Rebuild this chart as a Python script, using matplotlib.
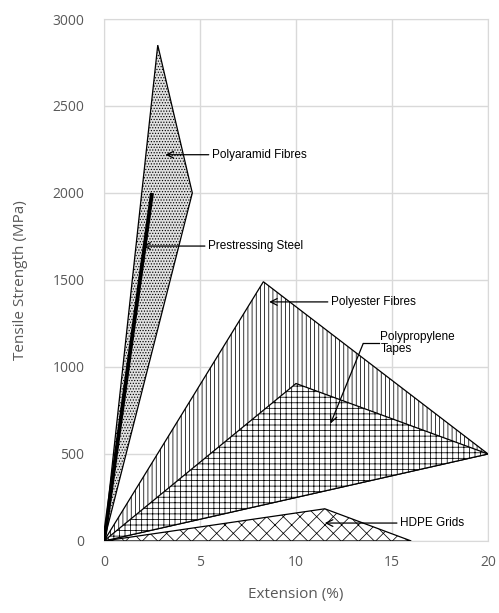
import matplotlib
matplotlib.use("Agg")
import matplotlib.pyplot as plt
from matplotlib.patches import Polygon

# Data (extension %, tensile strength MPa)
polyaramid_x = [0, 2.8, 4.6]
polyaramid_y = [0, 2850, 2000]
steel_x = [0, 2.5]
steel_y = [0, 2000]
polyester_x = [0, 8.3, 20]
polyester_y = [0, 1490, 500]
polypropylene_x = [0, 10, 20]
polypropylene_y = [0, 905, 500]
hdpe_x = [0, 11.5, 16]
hdpe_y = [0, 185, 0]

xticks = [0, 5, 10, 15, 20]
yticks = [0, 500, 1000, 1500, 2000, 2500, 3000]

plt.rcParams['hatch.linewidth'] = 0.55
fig = plt.figure(figsize=(4.99, 6.13), dpi=100)
ax = fig.add_axes([0.2084, 0.1175, 0.7696, 0.8515])

gray = '#d9d9d9'
tick_col = '#595959'

def poly(xs, ys, hatch, fc='white', z=2):
    p = Polygon(list(zip(xs, ys)), closed=True, facecolor=fc, edgecolor='black',
                hatch=hatch, linewidth=0.9, zorder=z)
    ax.add_patch(p)

poly(polyester_x, polyester_y, '||||', z=2)
poly(polypropylene_x, polypropylene_y, '+++', z=3)
poly(hdpe_x, hdpe_y, 'xx', z=3)
poly(polyaramid_x, polyaramid_y, '......', fc='#e0e0e0', z=4)
ax.plot(steel_x, steel_y, color='black', linewidth=2.8, zorder=5, solid_capstyle='butt')

ax.set_xlim(0, 20)
ax.set_ylim(0, 3000)
ax.set_xticks(xticks)
ax.set_yticks(yticks)
ax.grid(True, color=gray, linewidth=1.0, zorder=0)
ax.set_axisbelow(True)
for s in ax.spines.values():
    s.set_color(gray)
ax.tick_params(length=0, colors=tick_col, labelsize=10)
ax.tick_params(axis='y', pad=14)
ax.tick_params(axis='x', pad=10)
for lab in ax.get_xticklabels() + ax.get_yticklabels():
    lab.set_fontfamily('Open Sans')
ax.set_xlabel('Extension (%)', fontsize=11, color=tick_col, family='Open Sans', labelpad=12)
ax.set_ylabel('Tensile Strength (MPa)', fontsize=11, color=tick_col, family='Open Sans', labelpad=18)

afont = dict(fontsize=8.5, family='Liberation Sans', color='black', va='center', zorder=10)
aprops = dict(arrowstyle='->', color='black', lw=0.9, shrinkA=0, shrinkB=0,
              mutation_scale=12)

ax.annotate('Polyaramid Fibres', xy=(3.2, 2220), xytext=(5.6, 2220),
            arrowprops=aprops, **afont)
ax.annotate('Prestressing Steel', xy=(2.0, 1695), xytext=(5.4, 1695),
            arrowprops=aprops, **afont)
ax.annotate('Polyester Fibres', xy=(8.6, 1374), xytext=(11.8, 1374),
            arrowprops=aprops, **afont)
ax.annotate('HDPE Grids', xy=(11.5, 103), xytext=(15.4, 103),
            arrowprops=aprops, **afont)
ax.text(14.4, 1138, 'Polypropylene\nTapes', ha='left', linespacing=1.1, **afont)
ax.plot([14.3, 13.5], [1135, 1135], color='black', lw=0.9, zorder=10)
ax.annotate('', xy=(11.8, 675), xytext=(13.5, 1135), arrowprops=aprops, zorder=10)

fig.savefig('out.png', dpi=100)
